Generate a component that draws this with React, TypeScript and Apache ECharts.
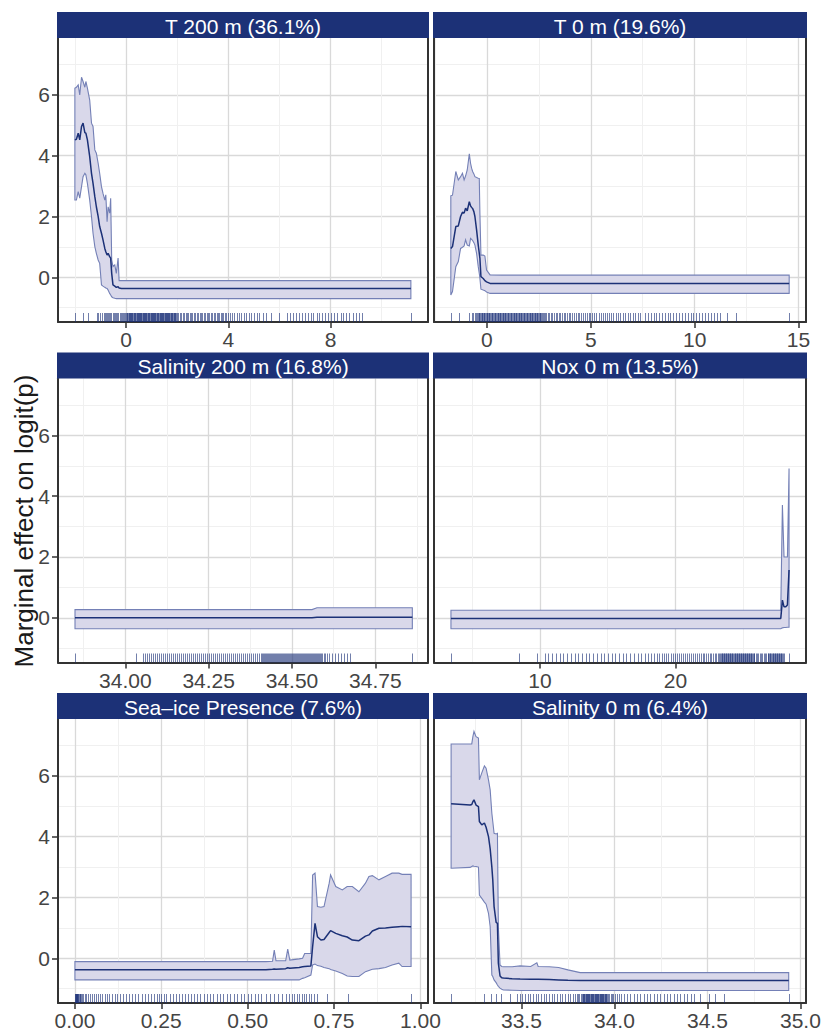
import React, { useEffect, useRef } from "react";
import * as echarts from "echarts";

// ---------- titles ----------
const panelTitles = [
  "T 200 m (36.1%)",
  "T 0 m (19.6%)",
  "Salinity 200 m (16.8%)",
  "Nox 0 m (13.5%)",
  "Sea\u2013ice Presence (7.6%)",
  "Salinity 0 m (6.4%)",
];
const yTitle = "Marginal effect on logit(p)";

// ---------- shared y scale ----------
const yMajorTicks = [0, 2, 4, 6];
const yMinorTicks = [-1, 1, 3, 5, 7];
const Y_MIN = -1.47;
const Y_MAX = 7.87;

// ---------- x scales ----------
const xMinVals = [-2.66, -2.55, 33.798, 2.19, -0.049, 33.03];
const xMaxVals = [11.81, 15.36, 34.908, 29.62, 1.022, 35.03];
const xMajorTicks = [
  [0, 4, 8],
  [0, 5, 10, 15],
  [34.0, 34.25, 34.5, 34.75],
  [10, 20],
  [0, 0.25, 0.5, 0.75, 1.0],
  [33.5, 34.0, 34.5, 35.0],
];
const xMinorTicks = [
  [-2, 2, 6, 10],
  [-2.5, 2.5, 7.5, 12.5],
  [33.875, 34.125, 34.375, 34.625, 34.875],
  [5, 15, 25],
  [0.125, 0.375, 0.625, 0.875],
  [33.25, 33.75, 34.25, 34.75],
];
const xDecimals = [0, 0, 2, 0, 2, 1];

// ---------- T 200 m ----------
const t200X = [-2.0, -1.94, -1.87, -1.81, -1.74, -1.68, -1.61, -1.57, -1.51, -1.42, -1.35, -1.29, -1.22, -1.16, -1.09, -1.03, -0.96, -0.9, -0.83, -0.79, -0.74, -0.7, -0.64, -0.6, -0.56, -0.51, -0.44, -0.38, -0.31, -0.27, -0.18, 11.14];
const t200Upper = [6.22, 6.25, 6.33, 6.0, 6.58, 6.44, 6.25, 6.44, 6.22, 5.83, 5.07, 4.96, 4.19, 4.08, 3.75, 3.42, 2.98, 2.76, 2.54, 2.71, 1.83, 2.32, 2.11, 2.6, 0.57, 0.35, 0.41, 0.13, 0.63, -0.11, -0.11, -0.11];
const t200Mean = [4.52, 4.54, 4.74, 4.52, 4.96, 5.07, 4.76, 4.74, 4.52, 3.97, 3.42, 3.09, 2.65, 2.32, 2.0, 1.67, 1.45, 1.23, 0.95, 0.84, 0.73, 0.79, 0.68, 0.63, 0.13, -0.25, -0.29, -0.33, -0.31, -0.35, -0.37, -0.37];
const t200Lower = [2.54, 2.54, 2.82, 2.6, 2.98, 3.31, 3.42, 3.37, 3.09, 2.54, 2.0, 1.45, 1.01, 0.79, 0.57, 0.46, -0.25, -0.29, -0.33, -0.35, -0.37, -0.42, -0.53, -0.58, -0.64, -0.67, -0.69, -0.7, -0.7, -0.7, -0.7, -0.7];
const t200Rug = [
  -2.0, -1.67, -1.48, -1.15, -1.09, -1.02,
  -0.93, -0.88, -0.84, -0.79, -0.75, -0.7, -0.66, -0.61, -0.57, -0.52, -0.48, -0.43, -0.39, -0.34, -0.3, -0.25, -0.21, -0.16, -0.12, -0.07, -0.03,
  0.01, 0.03, 0.05, 0.08, 0.1, 0.12, 0.14, 0.16, 0.19, 0.21, 0.23, 0.25, 0.27, 0.3, 0.32, 0.34, 0.36, 0.38, 0.41, 0.43, 0.45, 0.47, 0.49, 0.52, 0.54, 0.56, 0.58, 0.6, 0.63, 0.65, 0.67, 0.69, 0.71, 0.74, 0.76, 0.78, 0.8, 0.82, 0.85, 0.87, 0.89, 0.91, 0.93, 0.96, 0.98, 1.0, 1.02, 1.04, 1.07, 1.09, 1.11, 1.13, 1.15, 1.18, 1.2, 1.22, 1.24, 1.26, 1.29, 1.31, 1.33, 1.35, 1.37, 1.4, 1.42, 1.44, 1.46, 1.48, 1.51, 1.53, 1.55, 1.57, 1.59, 1.62, 1.64, 1.66, 1.68, 1.7, 1.73, 1.75, 1.77, 1.79, 1.81, 1.84, 1.86, 1.88, 1.9, 1.93, 1.96,
  2.0, 2.05, 2.11, 2.16, 2.22, 2.27, 2.33, 2.38, 2.44, 2.49, 2.55, 2.6, 2.66, 2.71, 2.77, 2.82, 2.88, 2.93, 2.99, 3.04, 3.1, 3.15, 3.21, 3.26, 3.32, 3.37, 3.43, 3.48, 3.54, 3.59, 3.65, 3.7, 3.76, 3.81, 3.87, 3.92, 3.98,
  4.06, 4.15, 4.24, 4.33, 4.42, 4.51, 4.6, 4.7, 4.8, 4.9, 5.0, 5.11, 5.22, 5.34, 5.47, 5.66, 5.99,
  6.31, 6.42, 6.53, 6.65, 6.76, 6.88, 6.99, 7.1, 7.22, 7.33, 7.45, 7.56, 7.68, 7.8, 7.91, 8.03, 8.15, 8.27, 8.39, 8.5, 8.62, 8.74, 8.86, 8.98, 9.1, 9.23, 11.14,
];

// ---------- T 0 m ----------
const t0X = [-1.74, -1.66, -1.5, -1.38, -1.27, -1.18, -1.1, -1.03, -0.95, -0.85, -0.79, -0.74, -0.69, -0.63, -0.58, -0.5, -0.42, -0.37, -0.34, -0.29, -0.18, -0.1, -0.02, 0.15, 0.7, 14.55];
const t0Upper = [2.68, 2.7, 3.48, 3.2, 3.31, 3.42, 3.2, 3.33, 3.53, 4.06, 3.75, 3.59, 3.48, 3.4, 3.31, 3.28, 3.26, 3.25, 2.1, 0.73, 0.73, 0.7, 0.24, 0.08, 0.07, 0.07];
const t0Mean = [0.95, 1.01, 1.67, 1.69, 2.0, 2.14, 2.11, 2.27, 2.19, 2.49, 2.35, 2.3, 2.26, 2.16, 2.0, 1.56, 1.06, 0.79, 0.63, 0.02, -0.04, -0.11, -0.15, -0.2, -0.2, -0.2];
const t0Lower = [-0.58, -0.47, 0.35, 0.52, 0.95, 0.99, 1.03, 1.23, 1.06, 1.03, 1.28, 1.25, 1.21, 1.14, 1.06, 0.79, 0.35, 0.13, -0.03, -0.39, -0.42, -0.44, -0.48, -0.53, -0.53, -0.53];
const t0Rug = [
  -1.74, -1.34, -0.85, -0.74, -0.66, -0.58, -0.53, -0.48, -0.44,
  -0.4, -0.37, -0.33, -0.3, -0.26, -0.23, -0.19, -0.16, -0.12, -0.09, -0.05, -0.02, 0.02, 0.05, 0.09, 0.12, 0.16, 0.19, 0.23, 0.26, 0.3, 0.33, 0.37, 0.4, 0.44, 0.47, 0.51, 0.54, 0.58, 0.61, 0.65, 0.68, 0.72, 0.75, 0.79, 0.82, 0.86, 0.89, 0.93, 0.96, 1.0, 1.03, 1.07, 1.1, 1.14, 1.17, 1.21, 1.24, 1.28, 1.31, 1.35, 1.38, 1.42, 1.45, 1.49, 1.52, 1.56, 1.59, 1.63, 1.66, 1.7, 1.73, 1.77, 1.8, 1.84, 1.87, 1.91, 1.94, 1.98, 2.01, 2.05, 2.08, 2.12, 2.15, 2.19, 2.22, 2.26, 2.29, 2.33, 2.36, 2.4, 2.43, 2.47, 2.5, 2.54, 2.57, 2.61, 2.65, 2.7, 2.75, 2.8,
  2.86, 2.93, 3.0, 3.08, 3.15, 3.23, 3.3, 3.38, 3.46, 3.54, 3.62, 3.7, 3.78, 3.86, 3.94, 4.02, 4.1, 4.19, 4.27, 4.36, 4.44, 4.53, 4.62, 4.71, 4.8, 4.89, 4.98, 5.08, 5.17, 5.27, 5.37, 5.47, 5.57, 5.67, 5.77, 5.88, 5.98, 6.09, 6.2, 6.31, 6.42, 6.53, 6.65, 6.77, 6.89, 7.01, 7.13, 7.26, 7.39,
  7.61, 7.75, 7.88, 8.02, 8.15, 8.29, 8.42, 8.56, 8.7, 8.83, 8.97, 9.1, 9.24, 9.38, 9.52, 9.66, 9.8, 9.94, 10.08, 10.22, 10.36, 10.5, 10.64, 10.78, 10.92, 11.06, 11.2, 11.57, 12.0, 14.55,
];

// ---------- Salinity 200 m ----------
const sal200X = [33.849, 34.56, 34.575, 34.861];
const sal200Upper = [0.27, 0.27, 0.33, 0.33];
const sal200Mean = [0.0, 0.0, 0.02, 0.02];
const sal200Lower = [-0.36, -0.36, -0.36, -0.36];
const sal200Rug = [
  33.849, 34.032,
  34.054, 34.06, 34.066, 34.072, 34.078, 34.084, 34.09, 34.096, 34.102, 34.108, 34.114, 34.12, 34.126, 34.132, 34.138, 34.144, 34.15, 34.156, 34.162, 34.168, 34.174, 34.18, 34.186, 34.192, 34.198, 34.204, 34.21, 34.216, 34.222, 34.228, 34.234, 34.24, 34.246, 34.252, 34.258, 34.264, 34.27, 34.276, 34.282, 34.288, 34.294, 34.3, 34.306, 34.312, 34.318, 34.324, 34.33, 34.336, 34.342, 34.348, 34.354, 34.36, 34.366, 34.372, 34.378, 34.384, 34.39, 34.396, 34.402, 34.408,
  34.411, 34.414, 34.417, 34.42, 34.423, 34.426, 34.429, 34.432, 34.435, 34.438, 34.441, 34.444, 34.447, 34.45, 34.453, 34.456, 34.459, 34.462, 34.465, 34.468, 34.471, 34.474, 34.477, 34.48, 34.483, 34.486, 34.489, 34.492, 34.495, 34.498, 34.501, 34.504, 34.507, 34.51, 34.513, 34.516, 34.519, 34.522, 34.525, 34.528, 34.531, 34.534, 34.537, 34.54, 34.543, 34.546, 34.549, 34.552, 34.555, 34.558, 34.561, 34.564, 34.567, 34.57, 34.573, 34.576, 34.579, 34.582, 34.585, 34.588, 34.591, 34.595, 34.6, 34.606,
  34.612, 34.62, 34.628, 34.637, 34.646, 34.655, 34.664, 34.674, 34.861,
];

// ---------- Nox 0 m ----------
const noxX = [3.44, 27.76, 27.88, 28.0, 28.13, 28.25, 28.37];
const noxUpper = [0.25, 0.25, 3.71, 2.0, 2.0, 2.0, 4.91];
const noxMean = [-0.02, -0.02, 0.58, 0.36, 0.36, 0.42, 1.57];
const noxLower = [-0.36, -0.36, -0.33, -0.32, -0.32, -0.31, -0.31];
const noxRug = [
  3.44, 8.49, 9.78, 10.34, 10.62, 10.9, 11.17, 11.45, 11.72, 12.0, 12.27, 12.55, 12.82, 13.1, 13.37, 13.64, 13.92, 14.19, 14.47, 14.74, 15.01, 15.29, 15.56, 15.84, 16.11, 16.38, 16.66, 16.93, 17.2, 17.46, 17.72, 17.97, 18.2, 18.42, 18.62, 18.8, 18.98, 19.15, 19.32, 19.48, 19.64, 19.8, 19.96, 20.12, 20.27, 20.42, 20.57, 20.72, 20.87, 21.02, 21.16, 21.3, 21.44, 21.58, 21.72, 21.86, 22.0, 22.13, 22.26, 22.39, 22.52, 22.64, 22.76, 22.88, 22.99, 23.1, 23.2,
  23.3, 23.35, 23.4, 23.45, 23.5, 23.55, 23.6, 23.65, 23.7, 23.75, 23.8, 23.85, 23.9, 23.95, 24.0, 24.05, 24.1, 24.15, 24.2, 24.25, 24.3, 24.35, 24.4, 24.45, 24.5, 24.55, 24.6, 24.65, 24.7, 24.75, 24.8, 24.85, 24.9, 24.95, 25.0, 25.05, 25.1, 25.15, 25.2, 25.25, 25.3, 25.35, 25.4, 25.45, 25.5, 25.55, 25.6, 25.65, 25.7, 25.75, 25.8,
  25.9, 26.0, 26.1, 26.2, 26.3, 26.4, 26.5, 26.6, 26.7,
  26.8, 26.85, 26.9, 26.95, 27.0, 27.05, 27.1, 27.15, 27.2, 27.25, 27.3, 27.35, 27.4, 27.45, 27.5, 27.55, 27.6, 27.65, 27.7, 27.75, 27.8, 27.85, 27.9, 28.0, 28.37,
];

// ---------- Sea-ice Presence ----------
const iceX = [0, 0.553, 0.572, 0.577, 0.582, 0.61, 0.616, 0.622, 0.649, 0.659, 0.665, 0.683, 0.688, 0.695, 0.702, 0.712, 0.721, 0.736, 0.74, 0.755, 0.774, 0.788, 0.803, 0.822, 0.841, 0.851, 0.861, 0.88, 0.899, 0.918, 0.9375, 0.947, 0.973];
const iceUpper = [-0.11, -0.11, -0.1, 0.27, -0.08, -0.08, 0.3, -0.06, -0.02, 0.0, 0.16, 0.16, 2.74, 2.8, 1.7, 1.68, 1.7, 2.47, 2.74, 2.36, 2.25, 2.36, 2.36, 2.19, 2.47, 2.69, 2.72, 2.58, 2.69, 2.8, 2.8, 2.76, 2.76];
const iceMean = [-0.38, -0.38, -0.36, -0.35, -0.36, -0.34, -0.31, -0.33, -0.3, -0.28, -0.27, -0.25, 0.38, 1.15, 0.71, 0.6, 0.62, 0.85, 0.91, 0.82, 0.74, 0.7, 0.6, 0.58, 0.73, 0.77, 0.9, 0.99, 1.0, 1.02, 1.04, 1.05, 1.04];
const iceLower = [-0.71, -0.71, -0.71, -0.71, -0.71, -0.71, -0.71, -0.71, -0.71, -0.66, -0.64, -0.55, -0.22, -0.19, -0.24, -0.26, -0.3, -0.34, -0.37, -0.42, -0.5, -0.58, -0.6, -0.6, -0.44, -0.4, -0.36, -0.34, -0.3, -0.22, -0.16, -0.27, -0.27];
const iceRug = [
  0, 0.001, 0.002, 0.003, 0.004, 0.005, 0.006, 0.007, 0.008, 0.01, 0.012, 0.014, 0.016, 0.018, 0.021, 0.024,
  0.028, 0.033, 0.038, 0.043, 0.048, 0.054, 0.06, 0.066, 0.072, 0.079, 0.086, 0.094, 0.1, 0.108, 0.115, 0.122, 0.131, 0.14, 0.148, 0.157, 0.166, 0.175, 0.184, 0.193, 0.203, 0.212, 0.22, 0.229, 0.237, 0.244, 0.25, 0.257, 0.265, 0.274, 0.283, 0.292, 0.3, 0.309, 0.318, 0.327, 0.336, 0.345, 0.354, 0.363, 0.373, 0.382, 0.392, 0.401, 0.41, 0.42, 0.43, 0.44, 0.45, 0.46, 0.47, 0.48, 0.49, 0.5, 0.51, 0.52, 0.53, 0.54, 0.552, 0.564, 0.576, 0.588, 0.6, 0.611, 0.62, 0.628, 0.635, 0.642, 0.649, 0.656, 0.663, 0.67, 0.677, 0.684, 0.692, 0.7,
  0.729, 0.791, 0.973,
];

// ---------- Salinity 0 m ----------
const sal0X = [33.122, 33.224, 33.233, 33.239, 33.245, 33.256, 33.269, 33.274, 33.287, 33.301, 33.31, 33.323, 33.332, 33.341, 33.346, 33.353, 33.364, 33.371, 33.376, 33.385, 33.394, 33.403, 33.45, 33.493, 33.55, 33.583, 33.59, 33.65, 33.7, 33.75, 33.816, 34.937];
const sal0Upper = [7.05, 7.05, 7.05, 7.29, 7.46, 7.29, 7.24, 5.87, 6.1, 6.33, 6.25, 5.87, 5.54, 4.77, 4.5, 4.11, 4.09, 4.11, 1.04, -0.22, -0.27, -0.28, -0.28, -0.25, -0.27, -0.15, -0.27, -0.28, -0.3, -0.38, -0.47, -0.47];
const sal0Mean = [5.08, 5.04, 5.06, 5.15, 5.21, 5.04, 4.99, 4.5, 4.39, 4.45, 4.31, 4.0, 3.6, 3.0, 2.58, 1.7, 1.18, 1.15, -0.16, -0.58, -0.64, -0.65, -0.67, -0.68, -0.69, -0.69, -0.69, -0.7, -0.71, -0.72, -0.73, -0.73];
const sal0Lower = [2.96, 2.99, 3.02, 3.04, 3.03, 3.02, 3.0, 2.08, 1.97, 1.85, 1.78, 1.48, 1.04, -0.55, -0.6, -0.71, -0.8, -0.88, -0.92, -0.98, -1.02, -1.04, -1.05, -1.06, -1.06, -1.06, -1.06, -1.06, -1.06, -1.06, -1.06, -1.06];
const sal0Rug = [
  33.122, 33.3, 33.337, 33.364, 33.39, 33.44, 33.475, 33.49, 33.504, 33.518, 33.533, 33.547, 33.562, 33.576, 33.59, 33.605, 33.619, 33.634, 33.648, 33.662, 33.677, 33.691, 33.705, 33.72, 33.734, 33.748, 33.762, 33.776, 33.788, 33.798, 33.806, 33.812, 33.818, 33.824,
  33.83, 33.833, 33.836, 33.839, 33.842, 33.845, 33.848, 33.851, 33.854, 33.857, 33.86, 33.863, 33.866, 33.869, 33.872, 33.875, 33.878, 33.881, 33.884, 33.887, 33.89, 33.893, 33.896, 33.899, 33.902, 33.905, 33.908, 33.911, 33.914, 33.917, 33.92, 33.923, 33.926, 33.929, 33.932, 33.935, 33.938, 33.941, 33.944, 33.947, 33.95, 33.953, 33.956, 33.96,
  33.966, 33.972, 33.979, 33.986, 33.994, 34.003, 34.013, 34.024, 34.036, 34.05, 34.067, 34.085, 34.103, 34.121, 34.139, 34.157, 34.175, 34.193, 34.211, 34.229, 34.247, 34.265, 34.283, 34.301, 34.319, 34.337, 34.355, 34.373, 34.391, 34.41, 34.43, 34.46, 34.506, 34.54, 34.587, 34.937,
];

// ---------- styling ----------
const FONT = "'Liberation Sans', Arial, Helvetica, sans-serif";
const NAVY = "#1c3177";
const STRIP = "#1c3177";
const RIBBON_FILL = "#d9d8ea";
const RIBBON_STROKE = "#7480b6";
const GRID_MAJOR = "#d9d9d9";
const GRID_MINOR = "#f0f0f0";
const AXIS_COLOR = "#333333";
const LABEL_COLOR = "#444444";

const colLeft = [58, 434];
const colWidth = [370, 372];
const rowTop = [38, 378.5, 719];
const rowHeight = 284;
const stripHeight = 26;
const rugLength = 9;

const panelData = [
  { x: t200X, mean: t200Mean, lower: t200Lower, upper: t200Upper, rug: t200Rug },
  { x: t0X, mean: t0Mean, lower: t0Lower, upper: t0Upper, rug: t0Rug },
  { x: sal200X, mean: sal200Mean, lower: sal200Lower, upper: sal200Upper, rug: sal200Rug },
  { x: noxX, mean: noxMean, lower: noxLower, upper: noxUpper, rug: noxRug },
  { x: iceX, mean: iceMean, lower: iceLower, upper: iceUpper, rug: iceRug },
  { x: sal0X, mean: sal0Mean, lower: sal0Lower, upper: sal0Upper, rug: sal0Rug },
];

function buildOption() {
  const grid: any[] = [];
  const xAxis: any[] = [];
  const yAxis: any[] = [];
  const series: any[] = [];
  const graphic: any[] = [];

  panelData.forEach((p, i) => {
    const col = i % 2;
    const row = Math.floor(i / 2);
    const left = colLeft[col];
    const width = colWidth[col];
    const top = rowTop[row];
    grid.push({ left, top, width, height: rowHeight });

    const dec = xDecimals[i];
    xAxis.push({
      type: "value",
      gridIndex: i,
      min: xMinVals[i],
      max: xMaxVals[i],
      position: "bottom",
      axisLine: { show: true, onZero: false, lineStyle: { color: AXIS_COLOR, width: 2 } },
      axisTick: { show: true, customValues: xMajorTicks[i], length: 6, lineStyle: { color: AXIS_COLOR, width: 1.5 } },
      axisLabel: {
        show: true,
        customValues: xMajorTicks[i],
        formatter: (v: number) => Number(v).toFixed(dec),
        fontSize: 21,
        fontFamily: FONT,
        color: LABEL_COLOR,
        margin: 7,
      },
      splitLine: { show: true, lineStyle: { color: GRID_MAJOR, width: 1.3 } },
    });
    xAxis.push({
      type: "value",
      gridIndex: i,
      min: xMinVals[i],
      max: xMaxVals[i],
      position: "top",
      axisLine: { show: false },
      axisTick: { show: false, customValues: xMinorTicks[i] },
      axisLabel: { show: false, customValues: xMinorTicks[i] },
      splitLine: { show: true, lineStyle: { color: GRID_MINOR, width: 1 } },
    });

    yAxis.push({
      type: "value",
      gridIndex: i,
      min: Y_MIN,
      max: Y_MAX,
      position: "left",
      axisLine: { show: true, onZero: false, lineStyle: { color: AXIS_COLOR, width: 2 } },
      axisTick: { show: col === 0, customValues: yMajorTicks, length: 6, lineStyle: { color: AXIS_COLOR, width: 1.5 } },
      axisLabel: {
        show: col === 0,
        customValues: yMajorTicks,
        fontSize: 21,
        fontFamily: FONT,
        color: LABEL_COLOR,
        margin: 8,
      },
      splitLine: { show: true, lineStyle: { color: GRID_MAJOR, width: 1.3 } },
    });
    yAxis.push({
      type: "value",
      gridIndex: i,
      min: Y_MIN,
      max: Y_MAX,
      position: "right",
      axisLine: { show: true, onZero: false, lineStyle: { color: AXIS_COLOR, width: 2 } },
      axisTick: { show: false, customValues: yMinorTicks },
      axisLabel: { show: false, customValues: yMinorTicks },
      splitLine: { show: true, lineStyle: { color: GRID_MINOR, width: 1 } },
    });

    const xi = 2 * i;
    const yi = 2 * i;
    const xs = p.x;
    const lo = p.lower;
    const hi = p.upper;

    series.push({
      type: "custom",
      xAxisIndex: xi,
      yAxisIndex: yi,
      silent: true,
      z: 2,
      data: [[xs[0], lo[0]]],
      encode: { x: 0, y: 1 },
      renderItem: (_params: any, api: any) => {
        const pts: number[][] = [];
        for (let k = 0; k < xs.length; k++) pts.push(api.coord([xs[k], hi[k]]));
        for (let k = xs.length - 1; k >= 0; k--) pts.push(api.coord([xs[k], lo[k]]));
        return {
          type: "polygon",
          shape: { points: pts },
          style: { fill: RIBBON_FILL, stroke: RIBBON_STROKE, lineWidth: 1.1 },
        };
      },
    });

    series.push({
      type: "line",
      xAxisIndex: xi,
      yAxisIndex: yi,
      silent: true,
      z: 3,
      symbol: "none",
      showSymbol: false,
      data: xs.map((x, k) => [x, p.mean[k]]),
      lineStyle: { color: NAVY, width: 1.5 },
    });

    series.push({
      type: "custom",
      xAxisIndex: xi,
      yAxisIndex: yi,
      silent: true,
      z: 4,
      data: p.rug.map((x) => [x, Y_MIN]),
      encode: { x: 0, y: 1 },
      renderItem: (_params: any, api: any) => {
        const c = api.coord([api.value(0), api.value(1)]);
        const px = Math.round(c[0]) + 0.5;
        return {
          type: "line",
          shape: { x1: px, y1: c[1], x2: px, y2: c[1] - rugLength },
          style: { stroke: NAVY, lineWidth: 1, opacity: 0.62 },
        };
      },
    });

    // strip
    const stripTop = top - stripHeight;
    graphic.push({
      type: "rect",
      shape: { x: left - 1, y: stripTop, width: width + 2, height: stripHeight },
      style: { fill: STRIP },
      silent: true,
      z: 10,
    });
    graphic.push({
      type: "text",
      x: left + width / 2,
      y: stripTop + stripHeight / 2 + 1,
      silent: true,
      z: 11,
      style: {
        text: panelTitles[i],
        fill: "#ffffff",
        fontSize: 21,
        fontFamily: FONT,
        align: "center",
        verticalAlign: "middle",
      },
    });
  });

  graphic.push({
    type: "text",
    x: 24,
    y: 521,
    rotation: Math.PI / 2,
    silent: true,
    style: {
      text: yTitle,
      fill: "#1a1a1a",
      fontSize: 26,
      fontFamily: FONT,
      align: "center",
      verticalAlign: "middle",
    },
  });

  return {
    animation: false,
    backgroundColor: "#ffffff",
    grid,
    xAxis,
    yAxis,
    series,
    graphic,
  };
}

export default function App() {
  const ref = useRef<HTMLDivElement>(null);
  useEffect(() => {
    document.body.style.margin = "0";
    const chart = echarts.init(ref.current as HTMLDivElement, null, { renderer: "svg" });
    chart.setOption(buildOption() as any);
    return () => {
      chart.dispose();
    };
  }, []);
  return <div ref={ref} style={{ width: 825, height: 1034 }} />;
}
